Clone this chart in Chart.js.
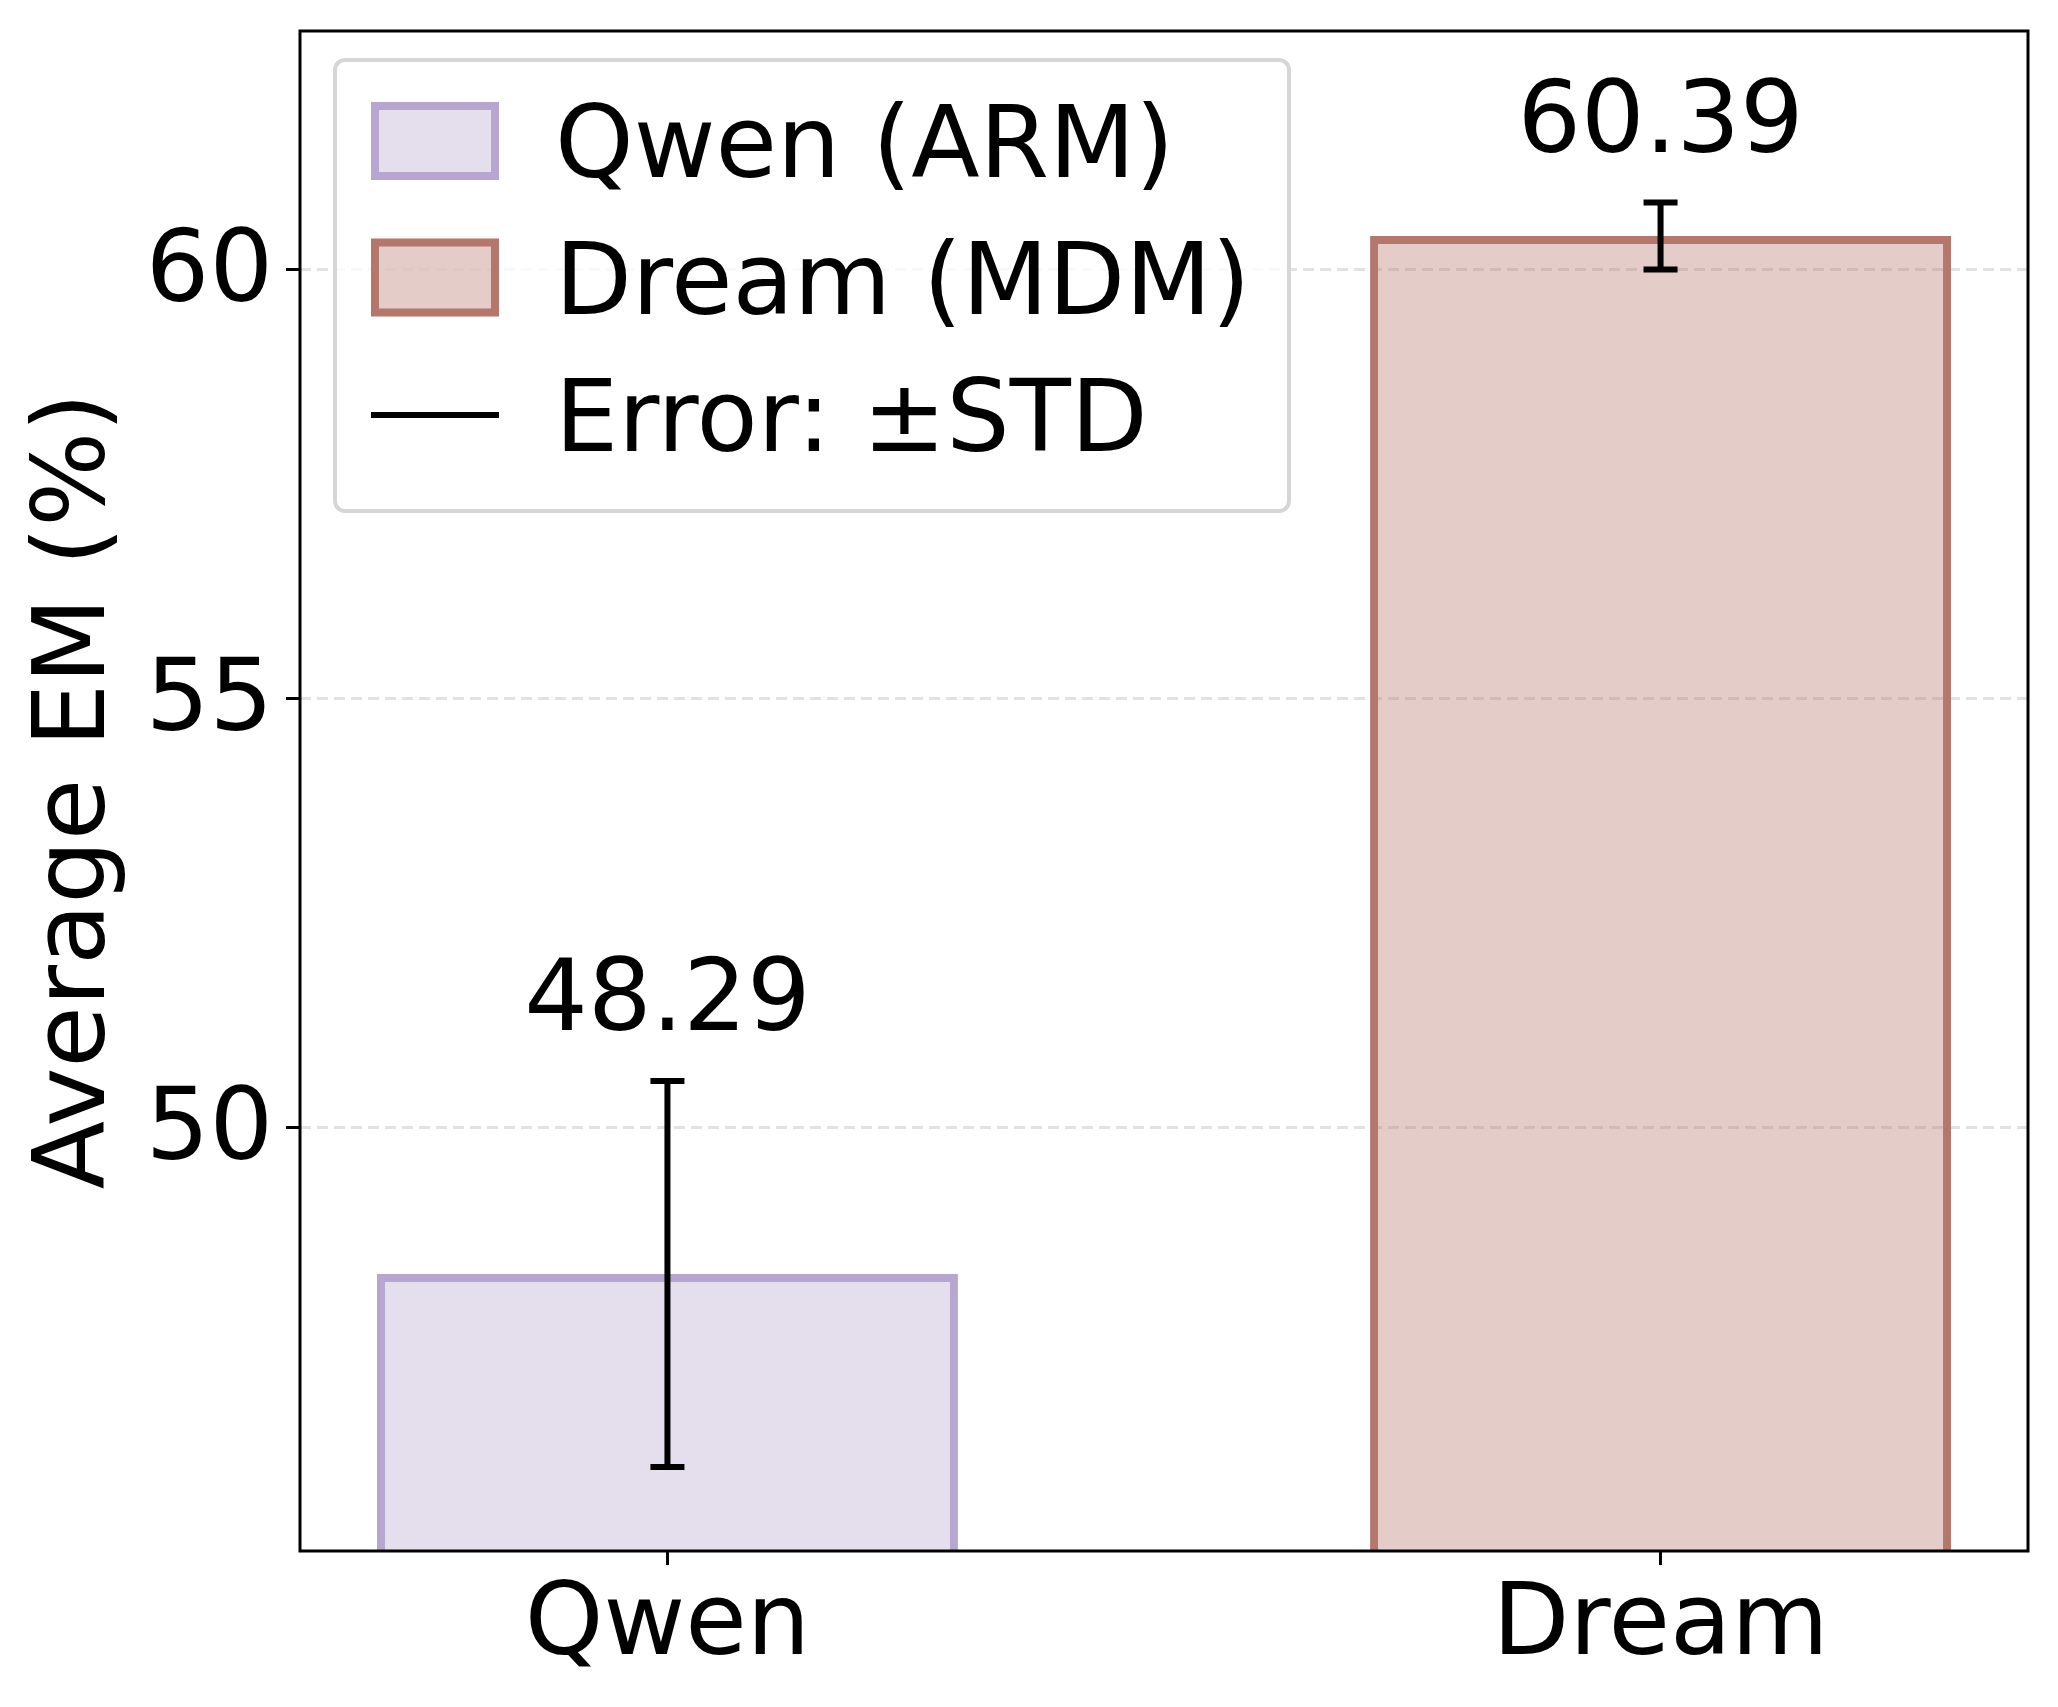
<!DOCTYPE html>
<html>
<head>
<meta charset="utf-8">
<script src="https://cdn.jsdelivr.net/npm/chart.js@4.4.1/dist/chart.umd.min.js"></script>
<style>
  html, body { margin: 0; padding: 0; background: #fff; }
  canvas { display: block; }
</style>
</head>
<body>
<canvas id="chart" width="2058" height="1707" style="width:2058px;height:1707px"></canvas>
<script>
// Average EM per model, with ±STD error bars.

const categories = ['Qwen', 'Dream'];
const seriesNames = ['Qwen (ARM)', 'Dream (MDM)'];
const means = [48.29, 60.39];
const stds = [2.25, 0.39];
const yTicks = [50, 55, 60];
const yRange = [45.06, 62.78];
const xRange = [-0.37, 1.37];

const edgeColors = ['#b7a6cf', '#b5766c'];
const fillColors = ['rgba(183,166,207,0.37)', 'rgba(181,118,108,0.37)'];

const FONT = 'DejaVu Sans';
Chart.defaults.font.family = FONT;
Chart.defaults.color = '#000';

// error bars + value labels over the bars
const errorBars = {
  id: 'errorBars',
  afterDatasetsDraw(chart) {
    const { ctx, scales: { x, y } } = chart;
    ctx.save();
    ctx.strokeStyle = '#000';
    ctx.lineWidth = 6;
    means.forEach((m, i) => {
      const px = x.getPixelForValue(i);
      const top = y.getPixelForValue(m + stds[i]);
      const bot = y.getPixelForValue(m - stds[i]);
      ctx.beginPath();
      ctx.moveTo(px, top); ctx.lineTo(px, bot);
      ctx.moveTo(px - 17, top); ctx.lineTo(px + 17, top);
      ctx.moveTo(px - 17, bot); ctx.lineTo(px + 17, bot);
      ctx.stroke();
      ctx.fillStyle = '#000';
      ctx.font = `100px "${FONT}"`;
      ctx.textAlign = 'center';
      ctx.textBaseline = 'alphabetic';
      ctx.fillText(m.toFixed(2), px, top - 51);
    });
    ctx.restore();
  }
};

// axes frame + legend box
const frameAndLegend = {
  id: 'frameAndLegend',
  afterDraw(chart) {
    const { ctx, chartArea: a } = chart;
    ctx.save();
    ctx.strokeStyle = '#000';
    ctx.lineWidth = 3;
    ctx.strokeRect(a.left, a.top, a.right - a.left, a.bottom - a.top);

    const bx = a.left + 35, by = a.top + 29, bw = 954, bh = 451;
    ctx.beginPath();
    ctx.roundRect(bx, by, bw, bh, 10);
    ctx.fillStyle = 'rgba(255,255,255,0.8)';
    ctx.fill();
    ctx.strokeStyle = '#d6d6d6';
    ctx.lineWidth = 4;
    ctx.stroke();

    const rows = [by + 81, by + 217.5, by + 355];
    const hx = bx + 40;
    seriesNames.forEach((name, i) => {
      const cy = rows[i];
      ctx.fillStyle = fillColors[i];
      ctx.fillRect(hx, cy - 35, 120, 70);
      ctx.strokeStyle = edgeColors[i];
      ctx.lineWidth = 8;
      ctx.strokeRect(hx, cy - 35, 120, 70);
    });
    ctx.strokeStyle = '#000';
    ctx.lineWidth = 6;
    ctx.beginPath();
    ctx.moveTo(hx - 4, rows[2]); ctx.lineTo(hx + 124, rows[2]);
    ctx.stroke();

    ctx.fillStyle = '#000';
    ctx.font = `100px "${FONT}"`;
    ctx.textAlign = 'left';
    ctx.textBaseline = 'alphabetic';
    const labels = [...seriesNames, 'Error: \u00b1STD'];
    labels.forEach((t, i) => ctx.fillText(t, bx + 220, rows[i] + 36));
    ctx.restore();
  }
};

new Chart(document.getElementById('chart').getContext('2d'), {
  type: 'bar',
  data: {
    datasets: seriesNames.map((name, i) => ({
      label: name,
      data: [{ x: i, y: means[i] }],
      backgroundColor: fillColors[i],
      borderColor: edgeColors[i],
      borderWidth: 8,
      borderSkipped: 'start',
      barPercentage: 0.585,
      categoryPercentage: 1,
      grouped: false,
    }))
  },
  options: {
    responsive: false,
    devicePixelRatio: 1,
    animation: false,
    layout: { padding: { top: 31, right: 30, left: 0, bottom: 0 } },
    plugins: { legend: { display: false }, tooltip: { enabled: false } },
    scales: {
      x: {
        type: 'linear',
        min: xRange[0],
        max: xRange[1],
        offset: false,
        border: { display: false },
        grid: { offset: false, drawOnChartArea: false, color: 'rgba(0,0,0,0)', tickColor: '#000', tickWidth: 3, tickLength: 14 },
        ticks: {
          autoSkip: false, maxRotation: 0, padding: 3,
          font: { size: 100 },
          callback: v => categories[v] ?? ''
        },
        afterBuildTicks: s => { s.ticks = categories.map((_, i) => ({ value: i })); },
        afterFit: s => { s.height = 156; s.paddingLeft = 0; s.paddingRight = 0; }
      },
      y: {
        min: yRange[0],
        max: yRange[1],
        beginAtZero: false,
        border: { display: false, dash: [11, 6] },
        grid: { color: '#e2e2e2', lineWidth: 3, tickColor: '#000', tickWidth: 3, tickLength: 14 },
        ticks: { padding: 13, labelOffset: 6, font: { size: 100 } },
        title: { display: true, text: 'Average EM (%)', font: { size: 100 }, padding: { top: 18, bottom: 0 } },
        afterBuildTicks: s => { s.ticks = yTicks.map(v => ({ value: v })); },
        afterFit: s => { s.width = 300; s.paddingTop = 0; s.paddingBottom = 0; }
      }
    }
  },
  plugins: [errorBars, frameAndLegend]
});
</script>
</body>
</html>
